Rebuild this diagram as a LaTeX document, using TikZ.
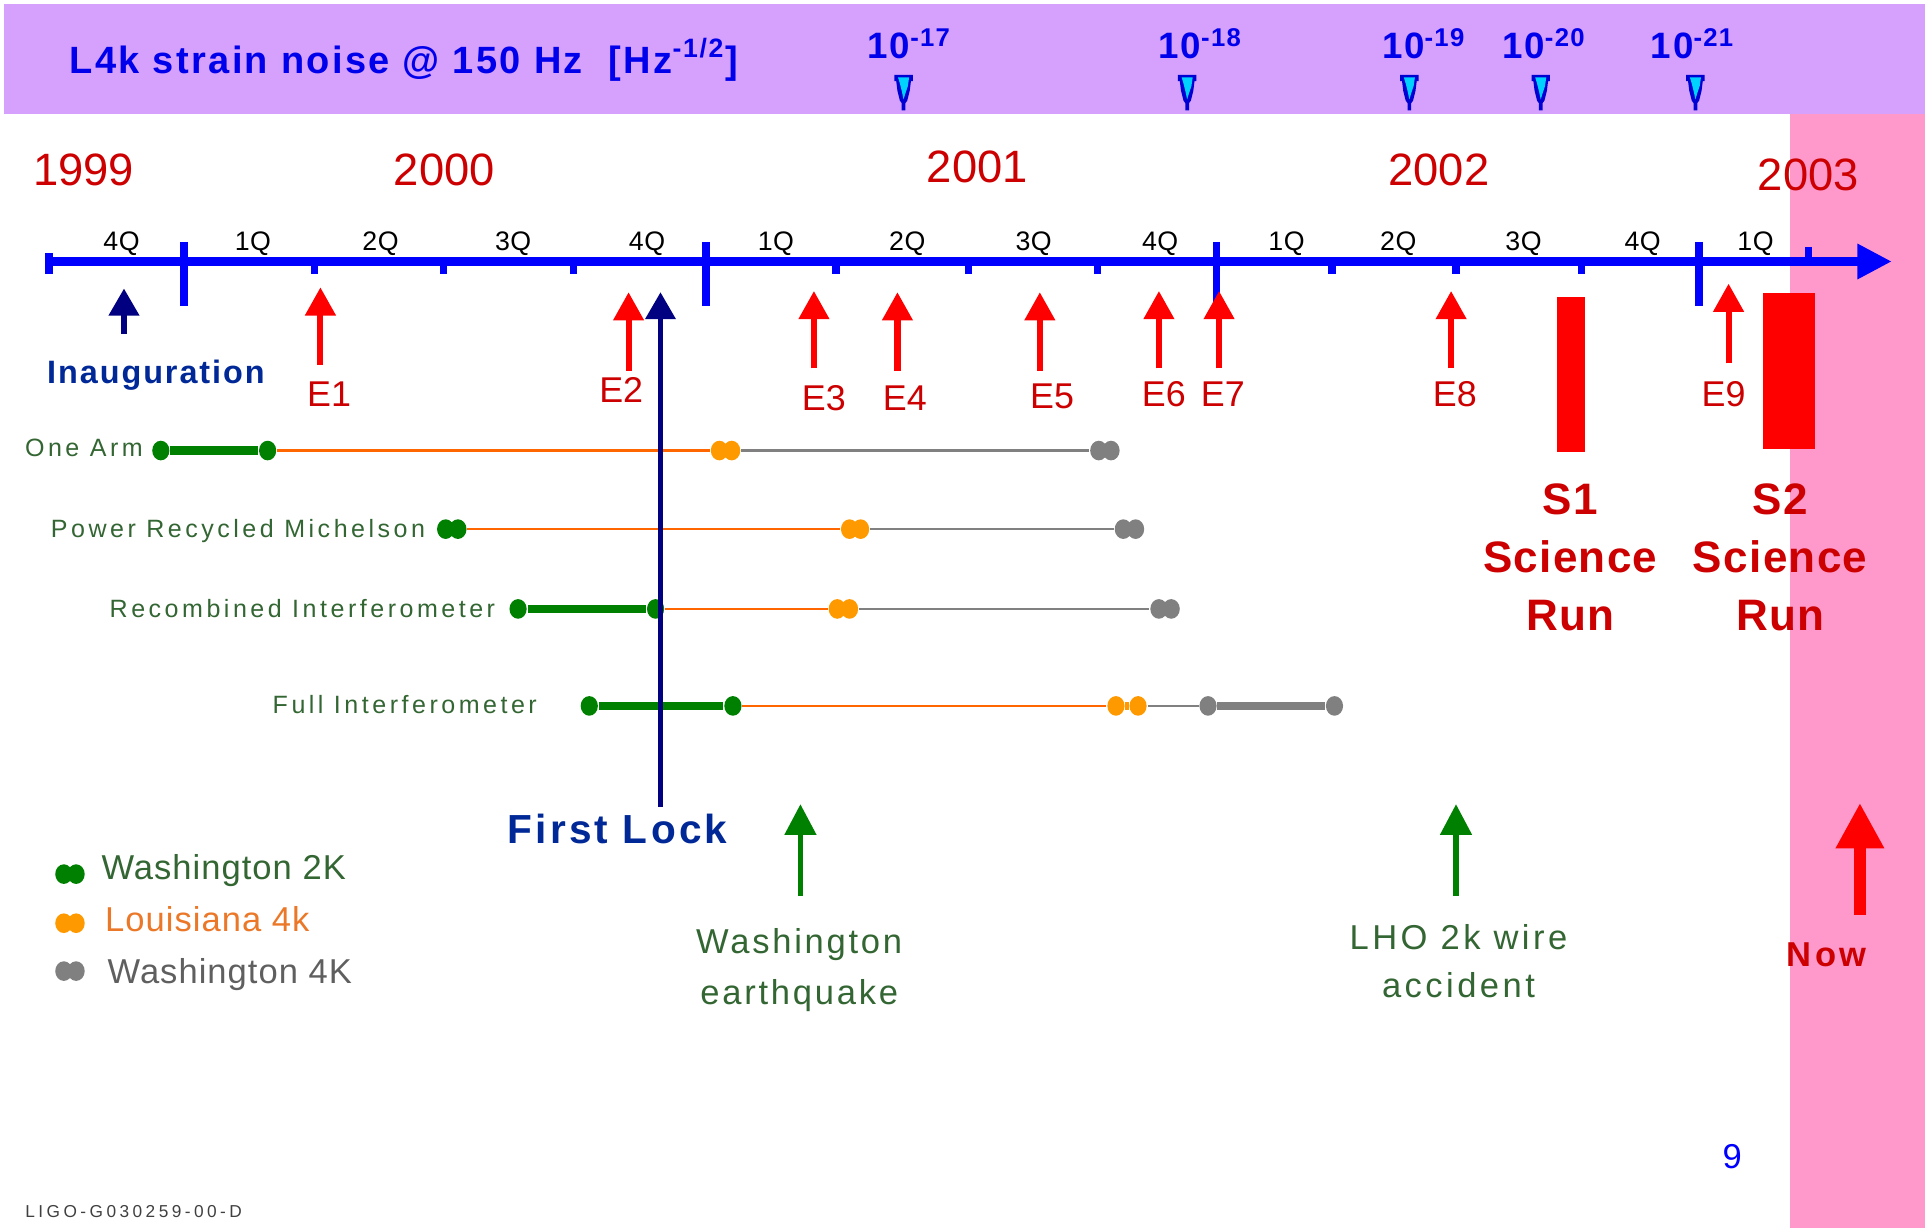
\documentclass[tikz,border=0pt]{standalone}
\usepackage{fontspec}
\setmainfont{Liberation Sans}
\usetikzlibrary{arrows.meta,shapes.geometric,positioning}
\definecolor{bandviolet}{RGB}{213,161,253}
\definecolor{nowpink}{RGB}{255,153,204}
\definecolor{axisblue}{RGB}{0,0,255}
\definecolor{headblue}{RGB}{0,0,235}
\definecolor{yearred}{RGB}{204,0,0}
\definecolor{evred}{RGB}{255,0,0}
\definecolor{navyline}{RGB}{0,0,128}
\definecolor{navytext}{RGB}{0,40,150}
\definecolor{wgreen}{RGB}{0,128,0}
\definecolor{wtext}{RGB}{51,102,51}
\definecolor{lorange}{RGB}{255,153,0}
\definecolor{lline}{RGB}{255,102,0}
\definecolor{ltext}{RGB}{235,120,40}
\definecolor{wgray}{RGB}{128,128,128}
\definecolor{graytext}{RGB}{95,95,95}
\definecolor{markcyan}{RGB}{0,210,255}
\definecolor{markblue}{RGB}{0,0,210}
\newcommand{\setfnt}[3]{\fontsize{#1}{#2}\selectfont\addfontfeatures{LetterSpace=#3}}
\tikzset{
  axisline/.style={draw=axisblue, line width=0.07cm, -{Triangle[width=0.27cm,length=0.28cm]}},
  axistick/.style={draw=axisblue, line width=0.06cm},
  qlabel/.style={font=\setfnt{6.2}{7}{2}, anchor=base},
  yearlabel/.style={text=yearred, font=\setfnt{10.5}{12}{0}, anchor=base},
  elabel/.style={text=yearred, font=\setfnt{8.3}{10}{0}, anchor=base},
  evarrow/.style={draw=evred, line width=0.05cm, -{Triangle[width=0.24cm,length=0.23cm]}},
  lockarrow/.style={draw=navyline, line width=0.045cm, -{Triangle[width=0.24cm,length=0.22cm]}},
  greenarrow/.style={draw=wgreen, line width=0.045cm, -{Triangle[width=0.25cm,length=0.25cm]}},
  nowarrow/.style={draw=evred, line width=0.1cm, -{Triangle[width=0.37cm,length=0.37cm]}},
  navylabel/.style={text=navytext, anchor=base},
  runlabel/.style={text=yearred, font=\bfseries\setfnt{10.2}{13.5}{3}, align=center},
  rowlabel/.style={text=wtext, font=\setfnt{5.8}{7}{14}, anchor=base east, inner xsep=0pt},
  legendtext/.style={font=\setfnt{8}{9}{3}, anchor=base west, inner xsep=0pt},
  exptext/.style={text=headblue, font=\bfseries\setfnt{8.5}{10}{5}, anchor=base west, inner xsep=0pt},
  blob/.style={ellipse, fill=#1, minimum width=0.14cm, minimum height=0.16cm, inner sep=0pt},
  thickbar/.style={draw=#1, line width=0.07cm},
  fineline/.style={draw=#1, line width=0.02cm},
}
\begin{document}
\begin{tikzpicture}[x=0.01cm,y=-0.01cm]
  \useasboundingbox (0,0) rectangle (1568,1000);

  % bands
  \fill[bandviolet] (3,3) rectangle (1568,93);
  \fill[nowpink] (1458,93) rectangle (1568,1000);

  % strain noise scale
  \node[text=headblue, font=\bfseries\setfnt{8.8}{10}{6.3}, anchor=base west, inner xsep=0pt] (noise) at (56,60)
    {L4k strain noise @ 150 Hz\ \ [Hz\textsuperscript{-1/2}]};
  \foreach \lx/\mx/\ex [count=\i] in {706/736/17, 943/967/18, 1125/1148/19, 1223/1255/20, 1344/1381/21} {
    \node[exptext] (exp\i) at (\lx,48) {10\textsuperscript{-\ex}};
    \fill[markblue] (\mx-7.5,61) -- (\mx+7.5,61) -- (\mx+7.5,66) -- (\mx+6,66) -- (\mx+5,74) -- (\mx+3,82)
      -- (\mx+1.5,84) -- (\mx+1.5,90) -- (\mx-1.5,90) -- (\mx-1.5,84) -- (\mx-3,82) -- (\mx-5,74)
      -- (\mx-6,66) -- (\mx-7.5,66) -- cycle;
    \fill[markcyan] (\mx-4.5,63) -- (\mx+4.5,63) -- (\mx+3.5,70) -- (\mx+1.5,76) -- (\mx,81)
      -- (\mx-1.5,74) -- (\mx-3,68) -- cycle;
  }

  % years
  \node[yearlabel] (y1999) at (68,151) {1999};
  \node[yearlabel] (y2000) at (362,151) {2000};
  \node[yearlabel] (y2001) at (796,149) {2001};
  \node[yearlabel] (y2002) at (1172,151) {2002};
  \node[yearlabel] (y2003) at (1473,155) {2003};

  % time axis
  \coordinate (t0) at (40,213);
  \coordinate (t1) at (1541,213);
  \draw[axisline] (t0) -- (t1);
  \foreach \x in {150,575,991,1384}
    \draw[axistick] (\x,197) -- (\x,249);
  \foreach \x in {256,361,467,681,789,894,1085,1186,1288}
    \draw[axistick] (\x,213) -- (\x,223);
  \draw[axistick] (40,206) -- (40,223);
  \draw[axistick] (1473,201) -- (1473,213);
  \foreach \x/\q [count=\i] in {99/4Q,206/1Q,310/2Q,418/3Q,527/4Q,632/1Q,739/2Q,842/3Q,945/4Q,1048/1Q,1139/2Q,1241/3Q,1338/4Q,1430/1Q}
    \node[qlabel] (q\i) at (\x,204) {\q};

  % engineering runs
  \foreach \ev/\x/\tip/\tail/\lx/\ly in {E1/261/234/297/268/331, E2/512/238/302/506/328, E3/663/237/300/671/334,
      E4/731/238/302/737/334, E5/847/238/302/857/333, E6/944/237/300/948/331, E7/993/237/300/996/331,
      E8/1182/237/300/1185/331, E9/1408/231/296/1404/331} {
    \coordinate (\ev-a) at (\x,\tail);
    \coordinate (\ev-b) at (\x,\tip);
    \draw[evarrow] (\ev-a) -- (\ev-b);
    \node[elabel] (\ev) at (\lx,\ly) {\ev};
  }

  % science runs
  \fill[evred] (1268,242) rectangle (1291,368);
  \fill[evred] (1436,239) rectangle (1478,366);
  \node[runlabel] (s1) at (1279,454) {S1\\Science\\Run};
  \node[runlabel] (s2) at (1450,454) {S2\\Science\\Run};

  % inauguration
  \coordinate (inaug-a) at (101,272);
  \coordinate (inaug-b) at (101,235);
  \draw[lockarrow] (inaug-a) -- (inaug-b);
  \node[navylabel, font=\bfseries\setfnt{7.5}{9}{6}] (inaug) at (127,312) {Inauguration};

  % subsystem rows
  \node[blob=wgreen] (arm1) at (131,367) {};
  \node[blob=wgreen] (arm2) at (218,367) {};
  \node[blob=lorange] (arm3) at (586,367) {};
  \node[blob=lorange] (arm4) at (596,367) {};
  \node[blob=wgray] (arm5) at (895,367) {};
  \node[blob=wgray] (arm6) at (905,367) {};
  \draw[thickbar=wgreen] (arm1) -- (arm2);
  \draw[fineline=lline] (arm2) -- (arm3);
  \draw[fineline=wgray] (arm4) -- (arm5);
  \node[rowlabel] (armlbl) at (117,372) {One Arm};

  \node[blob=wgreen] (prm1) at (363,431) {};
  \node[blob=wgreen] (prm2) at (373,431) {};
  \node[blob=lorange] (prm3) at (692,431) {};
  \node[blob=lorange] (prm4) at (701,431) {};
  \node[blob=wgray] (prm5) at (915,431) {};
  \node[blob=wgray] (prm6) at (925,431) {};
  \draw[fineline=lline] (prm2) -- (prm3);
  \draw[fineline=wgray] (prm4) -- (prm5);
  \node[rowlabel] (prmlbl) at (347,438) {Power Recycled Michelson};

  \node[blob=wgreen] (rec1) at (422,496) {};
  \node[blob=wgreen] (rec2) at (534,496) {};
  \node[blob=lorange] (rec3) at (682,496) {};
  \node[blob=lorange] (rec4) at (692,496) {};
  \node[blob=wgray] (rec5) at (944,496) {};
  \node[blob=wgray] (rec6) at (954,496) {};
  \draw[thickbar=wgreen] (rec1) -- (rec2);
  \draw[fineline=lline] (rec2) -- (rec3);
  \draw[fineline=wgray] (rec4) -- (rec5);
  \node[rowlabel] (reclbl) at (404,503) {Recombined Interferometer};

  \node[blob=wgreen] (full1) at (480,575) {};
  \node[blob=wgreen] (full2) at (597,575) {};
  \node[blob=lorange] (full3) at (909,575) {};
  \node[blob=lorange] (full4) at (927,575) {};
  \node[blob=wgray] (full5) at (984,575) {};
  \node[blob=wgray] (full6) at (1087,575) {};
  \draw[thickbar=wgreen] (full1) -- (full2);
  \draw[fineline=lline] (full2) -- (full3);
  \draw[thickbar=lorange] (full3) -- (full4);
  \draw[fineline=wgray] (full4) -- (full5);
  \draw[thickbar=wgray] (full5) -- (full6);
  \node[rowlabel] (fulllbl) at (438,581) {Full Interferometer};

  % first lock
  \coordinate (lock-a) at (538,657);
  \coordinate (lock-b) at (538,238);
  \draw[lockarrow] (lock-a) -- (lock-b);
  \node[navylabel, font=\bfseries\setfnt{9.4}{11}{8}] (lock) at (503,687) {First Lock};

  % legend
  \node[blob=wgreen] (lg1a) at (52,712) {};
  \node[blob=wgreen] (lg1b) at (62,712) {};
  \node[legendtext, text=wtext] (lg1) at (82,716) {Washington 2K};
  \node[blob=lorange] (lg2a) at (52,752) {};
  \node[blob=lorange] (lg2b) at (62,752) {};
  \node[legendtext, text=ltext] (lg2) at (85,759) {Louisiana 4k};
  \node[blob=wgray] (lg3a) at (52,791) {};
  \node[blob=wgray] (lg3b) at (62,791) {};
  \node[legendtext, text=graytext] (lg3) at (87,801) {Washington 4K};

  % incidents
  \coordinate (quake-a) at (652,730);
  \coordinate (quake-b) at (652,655);
  \draw[greenarrow] (quake-a) -- (quake-b);
  \node[text=wtext, align=center, font=\setfnt{8}{11.7}{8}] (quake) at (651,790) {Washington\\earthquake};
  \coordinate (wire-a) at (1186,730);
  \coordinate (wire-b) at (1186,655);
  \draw[greenarrow] (wire-a) -- (wire-b);
  \node[text=wtext, align=center, font=\setfnt{8}{11.1}{10}] (wire) at (1188,783) {LHO 2k wire\\accident};

  % now
  \coordinate (now-a) at (1515,745);
  \coordinate (now-b) at (1515,654);
  \draw[nowarrow] (now-a) -- (now-b);
  \node[text=yearred, font=\bfseries\setfnt{8}{9}{10}, anchor=base] (now) at (1488,787) {Now};

  % page footer
  \node[text=axisblue, font=\setfnt{8}{9}{0}, anchor=base] (pagenum) at (1411,952) {9};
  \node[text=black!75, font=\setfnt{4}{5}{20}, anchor=base west, inner xsep=0pt] (docid) at (20,992) {LIGO-G030259-00-D};
\end{tikzpicture}
\end{document}
